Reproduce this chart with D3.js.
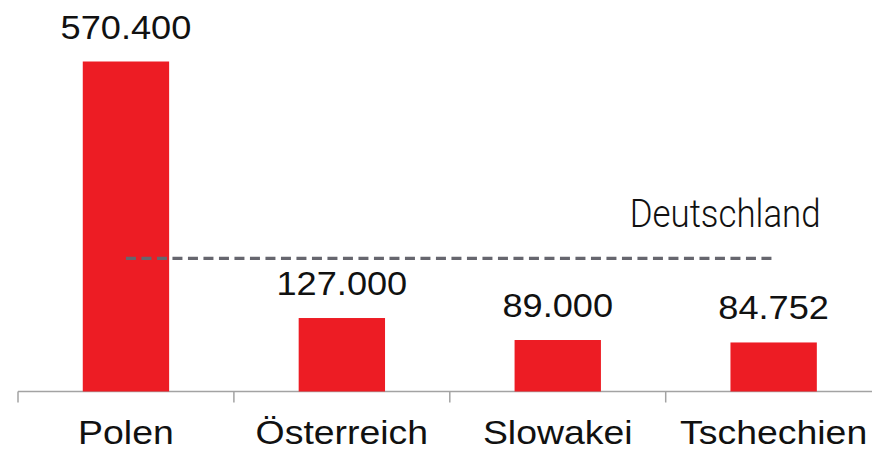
<!DOCTYPE html>
<html>
<head>
<meta charset="utf-8">
<script src="https://cdn.jsdelivr.net/npm/d3@7"></script>
<style>
  body { margin: 0; background: #fff; }
  text { font-family: "Liberation Sans", Arial, sans-serif; fill: #111; }
</style>
</head>
<body>
<div id="chart"></div>
<script>
// data
var countries = ["Polen", "Österreich", "Slowakei", "Tschechien"];
var values = [570400, 127000, 89000, 84752];
var valueLabels = ["570.400", "127.000", "89.000", "84.752"];
var refName = "Deutschland";
var refValue = 230000;

var width = 872, height = 451;
var stretch = 1.08; // the source text is a bit wider than Arial

var svg = d3.select("#chart")
    .append("svg")
    .attr("width", width)
    .attr("height", height);

// x: one band per country
var x = d3.scaleBand()
    .domain(countries)
    .range([18, 881.6])
    .paddingInner(0.6)
    .paddingOuter(0.3);

var y = d3.scaleLinear()
    .domain([0, 570400])
    .range([391.5, 61.5]);

var step = x.step();

// axis line + ticks between categories
svg.append("line")
    .attr("x1", 18).attr("x2", width)
    .attr("y1", y(0)).attr("y2", y(0))
    .attr("stroke", "#a3a3a3")
    .attr("stroke-width", 1.5);

svg.selectAll(".tick")
    .data(d3.range(countries.length))
    .enter()
    .append("line")
    .attr("x1", function(i) { return 18 + i * step; })
    .attr("x2", function(i) { return 18 + i * step; })
    .attr("y1", y(0))
    .attr("y2", y(0) + 11)
    .attr("stroke", "#a3a3a3")
    .attr("stroke-width", 1.5);

// bars
svg.selectAll(".bar")
    .data(countries)
    .enter()
    .append("rect")
    .attr("x", function(d) { return x(d); })
    .attr("width", x.bandwidth())
    .attr("y", function(d, i) { return y(values[i]); })
    .attr("height", function(d, i) { return y(0) - y(values[i]); })
    .attr("fill", "#ed1c24");

// value labels
svg.selectAll(".val")
    .data(countries)
    .enter()
    .append("text")
    .attr("transform", function(d, i) {
        return "translate(" + (x(d) + x.bandwidth() / 2) + "," + (y(values[i]) - 23) + ") scale(" + stretch + ",1)";
    })
    .attr("text-anchor", "middle")
    .style("font-size", "33.5px")
    .text(function(d, i) { return valueLabels[i]; });

// category labels
svg.selectAll(".cat")
    .data(countries)
    .enter()
    .append("text")
    .attr("transform", function(d) {
        return "translate(" + (x(d) + x.bandwidth() / 2) + "," + (y(0) + 52) + ") scale(" + (stretch + 0.02) + ",1)";
    })
    .attr("text-anchor", "middle")
    .style("font-size", "34px")
    .text(function(d) { return d; });

// Deutschland reference line
var xStart = x(countries[0]) + x.bandwidth() / 2;
var xEnd = x(countries[countries.length - 1]) + x.bandwidth() / 2;

svg.append("line")
    .attr("x1", xStart).attr("x2", xEnd)
    .attr("y1", y(refValue)).attr("y2", y(refValue))
    .attr("stroke", "#66666e")
    .attr("stroke-width", 3.2)
    .attr("stroke-dasharray", "10,5.5");

svg.append("text")
    .attr("x", xEnd + 47)
    .attr("y", y(refValue) - 31)
    .attr("text-anchor", "end")
    .attr("textLength", 191)
    .attr("lengthAdjust", "spacingAndGlyphs")
    .style("font-family", "Roboto, 'Open Sans', sans-serif")
    .style("font-weight", 300)
    .style("font-size", "38px")
    .text(refName);
</script>
</body>
</html>
